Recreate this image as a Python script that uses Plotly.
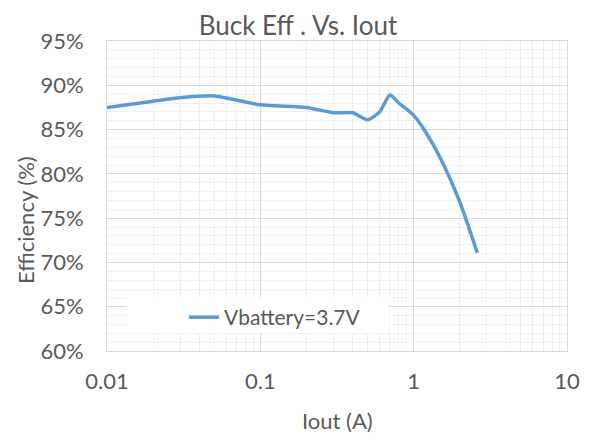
import plotly.graph_objects as go

# Data
iout_a = [0.01, 0.02, 0.03, 0.05, 0.1, 0.2, 0.3, 0.4, 0.5, 0.6, 0.7, 0.8, 1.0, 1.2, 1.5, 2.0, 2.6]
efficiency_pct = [87.5, 88.2, 88.6, 88.8, 87.8, 87.5, 86.9, 86.9, 86.1, 87.0, 88.9, 88.0, 86.6, 84.7, 81.7, 76.8, 71.1]
series_name = "Vbattery=3.7V"
x_tickvals = [0.01, 0.1, 1, 10]
x_ticktext = ["0.01", "0.1", "1", "10"]

# page body has an 8px default margin; work in page coords and subtract it
OFF = 8
PW, PH = 592, 437
W, H = PW - OFF, PH - OFF
# plot area in page coords
X0, X1, Y0, Y1 = 107, 573, 41, 351
L, R, T, B = X0 - OFF, PW - X1, Y0 - OFF, PH - Y1
FONT = "Lato"
TXT = "#595959"


def px(xp):
    return (xp - X0) / (X1 - X0)


def py(yp):
    return (Y1 - yp) / (Y1 - Y0)


fig = go.Figure()
fig.add_trace(go.Scatter(
    x=iout_a, y=efficiency_pct, mode="lines", name=series_name,
    line=dict(color="#5b9bd5", width=3.5, shape="spline", smoothing=0.6),
))

fig.update_layout(
    width=W, height=H,
    margin=dict(l=L, r=R, t=T, b=B),
    paper_bgcolor="white", plot_bgcolor="white",
    font=dict(family=FONT, color=TXT),
    title=dict(text="Buck Eff . Vs. Iout", x=(298 - OFF) / W, xanchor="center",
               y=1 - (26 - OFF) / H, yanchor="middle",
               font=dict(size=26, color=TXT, family=FONT)),
    showlegend=True,
    legend=dict(x=px(185), y=py(297), xanchor="left", yanchor="top",
                bgcolor="rgba(0,0,0,0)", borderwidth=0, font=dict(size=21, color=TXT)),
    xaxis=dict(type="log", range=[-2, 1], tickvals=x_tickvals, ticktext=x_ticktext,
               showgrid=True, gridcolor="#d9d9d9", gridwidth=1,
               minor=dict(showgrid=True, gridcolor="#efefef", gridwidth=1,
                          tickvals=[d * 10 ** e for e in (-2, -1, 0) for d in range(2, 10)]),
               showline=True, linecolor="#d9d9d9", linewidth=1, mirror=True,
               ticks="", tickfont=dict(size=22, color=TXT), zeroline=False,
               ticklabelstandoff=11),
    yaxis=dict(range=[60, 95], dtick=5, ticksuffix="%",
               showgrid=True, gridcolor="#d9d9d9", gridwidth=1,
               minor=dict(showgrid=True, gridcolor="#efefef", gridwidth=1, dtick=1),
               showline=True, linecolor="#d9d9d9", linewidth=1, mirror=True,
               ticks="", tickfont=dict(size=22, color=TXT), zeroline=False,
               ticklabelstandoff=18),
    shapes=[dict(type="rect", xref="paper", yref="paper",
                 x0=px(127), x1=px(393), y0=py(333), y1=py(297),
                 fillcolor="white", line=dict(width=0), layer="above")],
    annotations=[
        dict(text="Efficiency (%)", xref="paper", yref="paper",
             x=px(24), y=py(220), xanchor="center", yanchor="middle",
             textangle=-90, showarrow=False, font=dict(size=22, color=TXT)),
        dict(text="Iout (A)", xref="paper", yref="paper",
             x=px(340), y=py(420), xanchor="center", yanchor="middle",
             showarrow=False, font=dict(size=22, color=TXT)),
    ],
)

fig.write_html("out.html")
